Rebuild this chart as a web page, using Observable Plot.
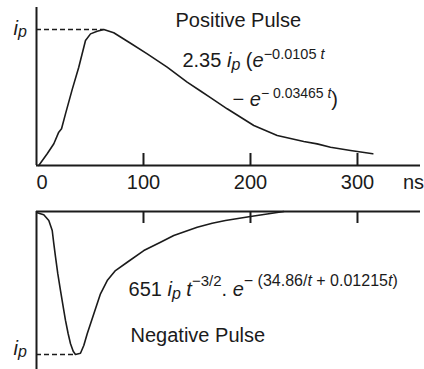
<!DOCTYPE html>
<html><head><meta charset="utf-8">
<script src="https://cdn.jsdelivr.net/npm/d3@7"></script>
<script src="https://cdn.jsdelivr.net/npm/@observablehq/plot@0.6"></script>
<style>body{margin:0;background:#fff} svg{display:block}</style>
</head><body><div id="chart"></div>
<script>
// Positive pulse (time ns, current / ip)
const posT = [2.1, 10.0, 16.2, 20.8, 23.4, 27.1, 33.4, 39.5, 45.8, 50.5, 56.7, 62.9, 72.2, 87.9, 103.5, 122.1, 140.8, 153.3, 162.6, 178.2, 203.1, 225, 249.8, 262.3, 274.8, 293.5, 314.3];
const posV = [0, 0.086, 0.16, 0.245, 0.27, 0.38, 0.56, 0.723, 0.919, 0.968, 0.987, 1.0, 0.976, 0.899, 0.821, 0.723, 0.613, 0.548, 0.499, 0.417, 0.294, 0.221, 0.176, 0.159, 0.134, 0.11, 0.086];
// Negative pulse
const negT = [0.7, 6.8, 11.5, 14.7, 16.2, 17.8, 19.9, 22.4, 25.0, 27.1, 29.6, 31.8, 34.3, 36.4, 41.1, 44.2, 47.4, 53.6, 59.8, 66.1, 73.8, 84.8, 100.3, 115.9, 128.3, 150.2, 164.2, 176.6, 200, 231.1];
const negV = [-0.009, -0.023, -0.063, -0.133, -0.226, -0.319, -0.435, -0.552, -0.669, -0.762, -0.855, -0.925, -0.977, -1.0, -0.991, -0.937, -0.855, -0.715, -0.576, -0.483, -0.413, -0.355, -0.273, -0.215, -0.168, -0.110, -0.082, -0.063, -0.035, 0];
// Axis ticks
const xTicks = [100, 200, 300];
const xTickLabelValues = [0, 100, 200, 300];
const xUnit = "ns";

const pos = posT.map((t, i) => ({t, v: posV[i]}));
const neg = negT.map((t, i) => ({t, v: negV[i]}));
const posPeak = pos[d3.maxIndex(pos, d => d.v)];
const negPeak = neg[d3.minIndex(neg, d => d.v)];

const INK = "#1b1b1b";
const FONT = "Liberation Sans, Arial, Helvetica, sans-serif";

// rich text definitions
const R = {
  ip: [{s:"i", i:1}, {s:"p", i:1, fs:16, sh:2}],
  pos1: [{s:"2.35 "}, {s:"i", i:1}, {s:"p", i:1, fs:16, sh:3}, {s:" ("}, {s:"e", i:1}, {s:"\u22120.0105 ", fs:14.5, sh:-8}, {s:"t", i:1, fs:14.5, sh:-8}],
  pos2: [{s:"\u2212 "}, {s:"e", i:1}, {s:"\u2212 0.03465 ", fs:14, sh:-8}, {s:"t", i:1, fs:14, sh:-8}, {s:")"}],
  neg1: [{s:"651 "}, {s:"i", i:1}, {s:"p", i:1, fs:16, sh:3}, {s:" "}, {s:"t", i:1}, {s:"\u22123/2", fs:15, sh:-10}, {s:". "}, {s:"e", i:1}, {s:"\u2212 (34.86/", fs:16, sh:-10}, {s:"t", i:1, fs:16, sh:-10}, {s:" + 0.01215", fs:16, sh:-10}, {s:"t", i:1, fs:16, sh:-10}, {s:")", fs:16, sh:-10}]
};
const plain = {};
for (const k in R) plain[R[k].map(g => g.s).join("")] = R[k];
const P = k => R[k].map(g => g.s).join("");

function applyRich(svg) {
  d3.select(svg).selectAll("text").each(function () {
    const segs = plain[this.textContent];
    if (!segs) return;
    const sel = d3.select(this).text(null).style("white-space", "pre");
    let cur = 0;
    for (const g of segs) {
      const sh = g.sh || 0;
      const ts = sel.append("tspan").text(g.s);
      if (sh !== cur) ts.attr("dy", sh - cur);
      cur = sh;
      if (g.fs) ts.attr("font-size", g.fs);
      if (g.i) ts.attr("font-style", "italic");
    }
  });
}

const W = 424, ML = 36, MR = 4;
const xMax = 358.9;
const TXT = {fill: INK, fontSize: 20, textAnchor: "start", lineAnchor: "bottom"};

// top panel
const topH = 200, topMT = 7, topMB = 35, topYMax = 1.162;
const topPx = (topH - topMT - topMB) / topYMax;
const topPlot = Plot.plot({
  width: W, height: topH, marginLeft: ML, marginRight: MR, marginTop: topMT, marginBottom: topMB,
  x: {domain: [0, xMax], axis: null},
  y: {domain: [0, topYMax], axis: null},
  style: {fontFamily: FONT, background: "white", overflow: "visible"},
  marks: [
    Plot.ruleY([0], {stroke: INK, strokeWidth: 2}),
    Plot.ruleX([0], {stroke: INK, strokeWidth: 2}),
    Plot.ruleX(xTicks, {x: d => d, y1: 0, y2: 12 / topPx, stroke: INK, strokeWidth: 2}),
    Plot.ruleY([posPeak], {y: "v", x1: 0, x2: "t", stroke: INK, strokeWidth: 1.5, strokeDasharray: "5,3"}),
    Plot.line(pos, {x: "t", y: "v", stroke: INK, strokeWidth: 1.6, strokeLinejoin: "round"}),
    Plot.text(xTickLabelValues.filter(d => d === 0), {x: d => d, y: 0, text: d => String(d), dy: 23, ...TXT}),
    Plot.text(xTickLabelValues.filter(d => d !== 0), {x: d => d, y: 0, text: d => String(d), dy: 23, ...TXT, textAnchor: "middle"}),
    Plot.text([xUnit], {x: 342.5, y: 0, dy: 23, ...TXT}),
    Plot.text(["Positive Pulse"], {x: 129.9, y: 1.015, ...TXT}),
    Plot.text([P("pos1")], {x: 136.4, y: 0.721, ...TXT}),
    Plot.text([P("pos2")], {x: 183.2, y: 0.441, ...TXT}),
    Plot.text([P("ip")], {x: -21.5, y: 0.963, ...TXT})
  ]
});

// bottom panel
const botH = 169, botMT = 11, botMB = 0, botYMin = -1.105;
const botPx = (botH - botMT - botMB) / -botYMin;
const botPlot = Plot.plot({
  width: W, height: botH, marginLeft: ML, marginRight: MR, marginTop: botMT, marginBottom: botMB,
  x: {domain: [0, xMax], axis: null},
  y: {domain: [botYMin, 0], axis: null},
  style: {fontFamily: FONT, background: "white", overflow: "visible"},
  marks: [
    Plot.ruleY([0], {stroke: INK, strokeWidth: 2}),
    Plot.ruleX([0], {stroke: INK, strokeWidth: 2}),
    Plot.ruleX(xTicks, {x: d => d, y1: 0, y2: -12 / botPx, stroke: INK, strokeWidth: 2}),
    Plot.ruleY([negPeak], {y: "v", x1: 0, x2: "t", stroke: INK, strokeWidth: 1.5, strokeDasharray: "5,3"}),
    Plot.line(neg, {x: "t", y: "v", stroke: INK, strokeWidth: 1.6, strokeLinejoin: "round"}),
    Plot.text([P("neg1")], {x: 86, y: -0.594, ...TXT}),
    Plot.text(["Negative Pulse"], {x: 87.9, y: -0.916, ...TXT}),
    Plot.text([P("ip")], {x: -21.5, y: -1.007, ...TXT})
  ]
});

applyRich(topPlot);
applyRich(botPlot);
document.getElementById("chart").append(topPlot, botPlot);
</script>
</body></html>
